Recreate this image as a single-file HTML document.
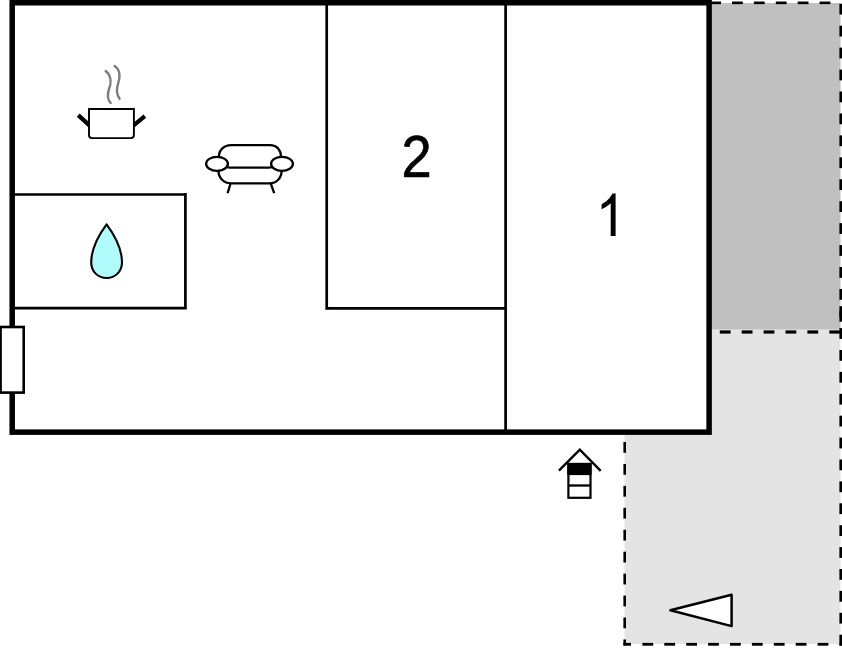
<!DOCTYPE html>
<html><head><meta charset="utf-8">
<style>
html,body{margin:0;padding:0;background:#fff;width:842px;height:652px;overflow:hidden}
svg{display:block;position:absolute;left:0;top:0}
text{font-family:"Liberation Sans",sans-serif}
</style></head><body>
<svg width="842" height="652" viewBox="0 0 842 652">
<rect x="0" y="0" width="842" height="652" fill="#fff"/>
<rect x="624.6" y="329.5" width="215.9" height="314.5" fill="#e4e4e4"/>
<rect x="700" y="3" width="140.5" height="326.5" fill="#c0c0c0"/>
<g fill="#000"><rect x="710.2" y="1.55" width="10.8" height="2.6"/><rect x="732" y="1.55" width="10.8" height="2.6"/><rect x="753.9" y="1.55" width="10.8" height="2.6"/><rect x="775.8" y="1.55" width="10.8" height="2.6"/><rect x="797.7" y="1.55" width="10.8" height="2.6"/><rect x="819.6" y="1.55" width="10.8" height="2.6"/><rect x="839.4" y="3.75" width="2.7" height="10.8"/><rect x="839.4" y="25.69" width="2.7" height="10.8"/><rect x="839.4" y="47.63" width="2.7" height="10.8"/><rect x="839.4" y="69.57" width="2.7" height="10.8"/><rect x="839.4" y="91.51" width="2.7" height="10.8"/><rect x="839.4" y="113.45" width="2.7" height="10.8"/><rect x="839.4" y="135.39" width="2.7" height="10.8"/><rect x="839.4" y="157.33" width="2.7" height="10.8"/><rect x="839.4" y="179.27" width="2.7" height="10.8"/><rect x="839.4" y="201.21" width="2.7" height="10.8"/><rect x="839.4" y="223.15" width="2.7" height="10.8"/><rect x="839.4" y="245.09" width="2.7" height="10.8"/><rect x="839.4" y="267.03" width="2.7" height="10.8"/><rect x="839.4" y="288.97" width="2.7" height="10.8"/><rect x="839.4" y="310.91" width="2.7" height="10.8"/><rect x="839.4" y="634.7" width="2.7" height="10.8"/><rect x="839.4" y="612.8" width="2.7" height="10.8"/><rect x="839.4" y="590.9" width="2.7" height="10.8"/><rect x="839.4" y="569" width="2.7" height="10.8"/><rect x="839.4" y="547.1" width="2.7" height="10.8"/><rect x="839.4" y="525.2" width="2.7" height="10.8"/><rect x="839.4" y="503.3" width="2.7" height="10.8"/><rect x="839.4" y="481.4" width="2.7" height="10.8"/><rect x="839.4" y="459.5" width="2.7" height="10.8"/><rect x="839.4" y="437.6" width="2.7" height="10.8"/><rect x="839.4" y="415.7" width="2.7" height="10.8"/><rect x="839.4" y="393.8" width="2.7" height="10.8"/><rect x="839.4" y="371.9" width="2.7" height="10.8"/><rect x="839.4" y="350" width="2.7" height="10.8"/><rect x="839.4" y="328.1" width="2.7" height="10.8"/><rect x="839.4" y="306.2" width="2.7" height="10.8"/><rect x="719.8" y="330.4" width="10.8" height="3.2"/><rect x="741.7" y="330.4" width="10.8" height="3.2"/><rect x="763.6" y="330.4" width="10.8" height="3.2"/><rect x="785.5" y="330.4" width="10.8" height="3.2"/><rect x="807.4" y="330.4" width="10.8" height="3.2"/><rect x="829.3" y="330.4" width="10.8" height="3.2"/><rect x="623.4" y="442" width="2.6" height="10.8"/><rect x="623.4" y="463.94" width="2.6" height="10.8"/><rect x="623.4" y="485.88" width="2.6" height="10.8"/><rect x="623.4" y="507.82" width="2.6" height="10.8"/><rect x="623.4" y="529.76" width="2.6" height="10.8"/><rect x="623.4" y="551.7" width="2.6" height="10.8"/><rect x="623.4" y="573.64" width="2.6" height="10.8"/><rect x="623.4" y="595.58" width="2.6" height="10.8"/><rect x="623.4" y="617.52" width="2.6" height="10.8"/><rect x="623.4" y="639.46" width="2.6" height="5.84"/><rect x="623.4" y="642.9" width="7.6" height="2.8"/><rect x="642.4" y="642.9" width="10.8" height="2.8"/><rect x="664.3" y="642.9" width="10.8" height="2.8"/><rect x="686.2" y="642.9" width="10.8" height="2.8"/><rect x="708.1" y="642.9" width="10.8" height="2.8"/><rect x="730" y="642.9" width="10.8" height="2.8"/><rect x="751.9" y="642.9" width="10.8" height="2.8"/><rect x="773.8" y="642.9" width="10.8" height="2.8"/><rect x="795.7" y="642.9" width="10.8" height="2.8"/><rect x="817.6" y="642.9" width="10.8" height="2.8"/><rect x="839.5" y="642.9" width="10.8" height="2.8"/></g>
<rect x="12.2" y="2.75" width="696.9" height="429.4" fill="#fff" stroke="#000" stroke-width="5.5"/>
<g stroke="#000" stroke-width="2.7" fill="none" stroke-linecap="butt">
<path d="M326.7 5V309.7M325.4 308.3H506.9M505.6 5V430"/>
<path d="M15 194.5H186.8M185.4 193.1V309.6M15 308.2H186.8"/>
</g>
<rect x="0.55" y="327" width="23.15" height="65.6" fill="#fff" stroke="#000" stroke-width="2.6"/>
<!-- pot -->
<g fill="none" stroke="#7d7d7d" stroke-width="2.4" stroke-linecap="round">
<path d="M105.7 71C112 76 111 84 109 89C107 95 108 100 110.7 103"/>
<path d="M114.6 66C121 70 120 79 118 84C116 90 117 95 119.6 98.8"/>
</g>
<g fill="none" stroke="#000">
<path d="M78.2 115.2L90 125.8M133 125.8L144.9 116.2" stroke-width="4.3" stroke-linecap="butt"/>
<path d="M89 109H133.9V135.1Q133.9 138.1 130.9 138.1H92Q89 138.1 89 135.1Z" stroke-width="1.9" fill="#fff"/>
</g>
<!-- sofa -->
<g fill="none" stroke="#000" stroke-width="2.3">
<path d="M218.9 157C218.9 150 224 145.1 231 145.1H270C277 145.1 281 150 281 157"/>
<path d="M218.5 171C218.5 178 224 183.3 231 183.3H269.5C276.5 183.3 281.6 178 281.6 171"/>
<path d="M224.5 165.8Q227 167.7 230 167.7H269Q272 167.7 274.5 165.8"/>
<ellipse cx="217" cy="163.8" rx="10.9" ry="7" fill="#fff"/>
<ellipse cx="282" cy="163.8" rx="10.9" ry="7" fill="#fff"/>
<path d="M230.4 184L227.6 193.2M270.9 184L274.2 193.2"/>
</g>
<!-- drop -->
<path d="M106.6 224.3C100.5 232.5 91.2 247 91.2 262.5C91.2 271.5 98 278 106.6 278C115.2 278 122 271.5 122 262.5C122 247 112.7 232.5 106.6 224.3Z" fill="#b0fcfd" stroke="#000" stroke-width="2.1" stroke-linejoin="round"/>
<!-- entrance -->
<g stroke="#000" fill="none">
<path d="M558.9 470.6L579.8 449.7L600.7 470.9" stroke-width="2.4"/>
<rect x="568.4" y="464" width="22.1" height="33.8" stroke-width="2.2" fill="#fff"/>
<path d="M568 485.5H591" stroke-width="2.3"/>
</g>
<rect x="567.3" y="462.9" width="24.3" height="12.2" fill="#000"/>
<!-- triangle -->
<path d="M670.4 610.3L731.6 594.8V626.1Z" fill="#fff" stroke="#000" stroke-width="2.5" stroke-linejoin="round"/>
<text x="416.6" y="176.6" font-size="59.6" text-anchor="middle" fill="#000" stroke="#000" stroke-width="0.7" transform="translate(416.6 0) scale(0.91 1) translate(-416.6 0)">2</text>
<path d="M615.6 193.6V235.9H610.7V203.2C608.2 205.6 604.6 207.9 601.6 209.2V204.3C605.8 202.2 610.3 198.3 612.4 193.6Z" fill="#000"/>
</svg>
</body></html>
